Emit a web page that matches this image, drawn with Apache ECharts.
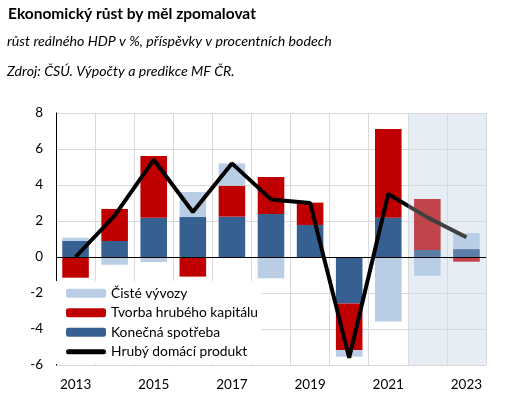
<!DOCTYPE html>
<html>
<head>
<meta charset="utf-8">
<script src="https://cdn.jsdelivr.net/npm/echarts@6/dist/echarts.min.js"></script>
<style>html,body{margin:0;padding:0;background:#fff}#c{width:511px;height:397px}</style>
</head>
<body>
<div id="c"></div>
<script>
var years = ['2013','2014','2015','2016','2017','2018','2019','2020','2021','2022','2023'];
var consumption = [0.89, 0.89, 2.18, 2.22, 2.24, 2.39, 1.78, -2.59, 2.18, 0.39, 0.44];
var capital = [-1.15, 1.78, 3.43, -1.09, 1.72, 2.05, 1.24, -2.58, 4.93, 2.83, -0.26];
var netExports = [0.18, -0.43, -0.28, 1.39, 1.24, -1.18, 0.0, -0.37, -3.59, -1.04, 0.89];
var gdp = [0.0, 2.3, 5.4, 2.5, 5.2, 3.2, 3.0, -5.6, 3.5, 2.2, 1.1];
var yTicks = [-6, -4, -2, 0, 2, 4, 6, 8];
var forecastFrom = 9;

var FONT = 'Lato';
function styled(values, color, fcColor) {
  return values.map(function (v, i) {
    return { value: v, itemStyle: { color: i >= forecastFrom ? fcColor : color } };
  });
}
var chart = echarts.init(document.getElementById('c'), null, { renderer: 'canvas' });
var option = {
  animation: false,
  textStyle: { fontFamily: FONT },
  title: [
    { text: 'Ekonomický růst by měl zpomalovat', left: 3, top: 1,
      textStyle: { fontFamily: FONT, fontSize: 15.5, fontWeight: 'bold', color: '#000' } },
    { text: 'růst reálného HDP v %, příspěvky v procentních bodech', left: 2, top: 29,
      textStyle: { fontFamily: FONT, fontSize: 14.2, fontStyle: 'italic', fontWeight: 'normal', color: '#000' } },
    { text: 'Zdroj: ČSÚ. Výpočty a predikce MF ČR.', left: 2, top: 59,
      textStyle: { fontFamily: FONT, fontSize: 14.2, fontStyle: 'italic', fontWeight: 'normal', color: '#000' } }
  ],
  grid: { left: 56, right: 25, top: 113, bottom: 32, containLabel: false },
  legend: {
    orient: 'vertical', left: 56, top: 281,
    padding: [5, 3, 5, 10],
    backgroundColor: '#fff',
    itemWidth: 40, itemHeight: 9, itemGap: 5,
    textStyle: { fontFamily: FONT, fontSize: 13.8, color: '#000', lineHeight: 14.5 },
    data: [
      { name: 'Čisté vývozy' },
      { name: 'Tvorba hrubého kapitálu' },
      { name: 'Konečná spotřeba' },
      { name: 'Hrubý domácí produkt',
        icon: 'path://M2.5,0 H37.5 A2.5,2.5 0 0 1 37.5,5 H2.5 A2.5,2.5 0 0 1 2.5,0 Z',
        itemStyle: { color: '#000' } }
    ]
  },
  xAxis: [
    {
      type: 'category', data: years, boundaryGap: true,
      axisLine: { show: false, onZero: false },
      axisTick: { show: false, interval: 0 },
      axisLabel: { interval: 1, margin: 13, color: '#000', fontFamily: FONT, fontSize: 13.5 },
      splitLine: { show: true, interval: 0, lineStyle: { color: '#D9D9D9', width: 1 } },
      z: 1.5
    },
    { type: 'value', min: -0.5, max: 10.5, show: false }
  ],
  yAxis: {
    type: 'value', min: yTicks[0], max: yTicks[yTicks.length - 1], interval: 2,
    axisLine: { show: true, onZero: false, lineStyle: { color: '#000', width: 1 } },
    axisTick: { show: false },
    axisLabel: { margin: 13, color: '#000', fontFamily: FONT, fontSize: 13.5 },
    splitLine: { show: true, lineStyle: { color: '#D9D9D9', width: 1 } },
    z: 1.5
  },
  series: [
    { name: 'Konečná spotřeba', type: 'bar', stack: 'c', barWidth: '68%',
      itemStyle: { color: '#376092' }, data: styled(consumption, '#376092', '#5B7EA9') },
    { name: 'Tvorba hrubého kapitálu', type: 'bar', stack: 'c', barWidth: '68%',
      itemStyle: { color: '#C00000' }, data: styled(capital, '#C00000', '#C2444B') },
    { name: 'Čisté vývozy', type: 'bar', stack: 'c', barWidth: '68%',
      itemStyle: { color: '#B9CDE5' }, data: styled(netExports, '#B9CDE5', '#B9CDE5') },
    { name: 'Hrubý domácí produkt', type: 'line', xAxisIndex: 1,
      data: gdp.map(function (v, i) { return [i, v]; }),
      symbol: 'none', showSymbol: false,
      lineStyle: { width: 4, color: '#000' },
      itemStyle: { color: '#000' },
      z: 3,
      markArea: {
        silent: true, z: 1,
        itemStyle: { color: '#E7EDF5' },
        data: [[{ xAxis: forecastFrom - 0.5 }, { xAxis: years.length - 0.5 }]]
      },
      markLine: {
        silent: true, symbol: 'none', z: 2.5,
        label: { show: false },
        lineStyle: { color: '#000', width: 1, type: 'solid' },
        data: [{ yAxis: 0 }]
      }
    }
  ]
};
chart.setOption(option);
// colour the forecast part of the GDP line grey, split at the forecast boundary
var x0 = chart.convertToPixel({ xAxisIndex: 1 }, -0.5);
var x1 = chart.convertToPixel({ xAxisIndex: 1 }, years.length - 0.5);
var xb = chart.convertToPixel({ xAxisIndex: 1 }, forecastFrom - 0.5);
var t = (xb - x0) / (x1 - x0);
chart.setOption({
  series: [{}, {}, {}, {
    lineStyle: {
      color: new echarts.graphic.LinearGradient(x0, 0, x1, 0, [
        { offset: 0, color: '#000' }, { offset: t, color: '#000' },
        { offset: t, color: '#404040' }, { offset: 1, color: '#404040' }
      ], true)
    }
  }]
});
</script>
</body>
</html>
